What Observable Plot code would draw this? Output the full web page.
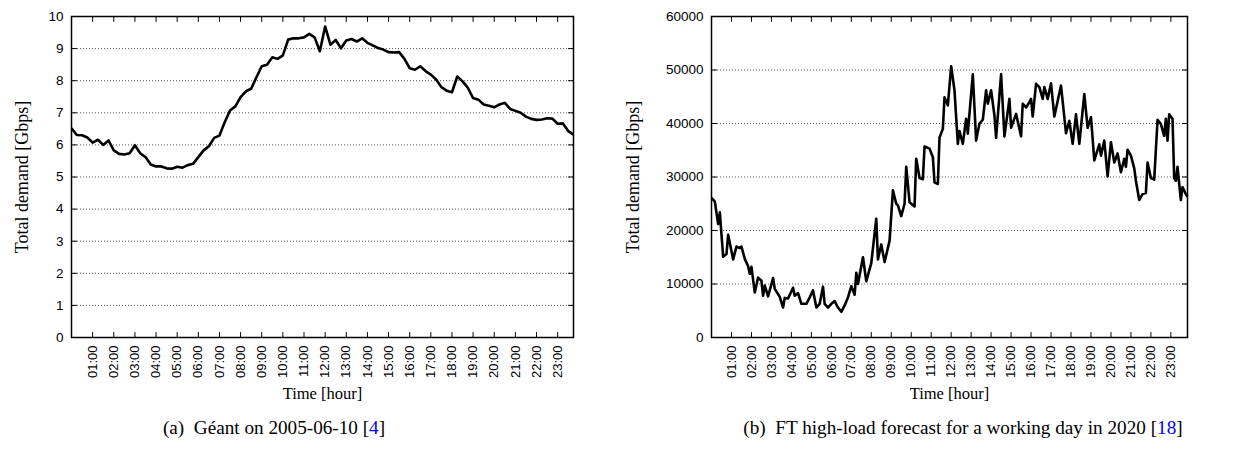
<!DOCTYPE html>
<html>
<head>
<meta charset="utf-8">
<script src="https://cdn.jsdelivr.net/npm/d3@7"></script>
<script src="https://cdn.jsdelivr.net/npm/@observablehq/plot@0.6"></script>
<style>
  html, body { margin: 0; padding: 0; background: #fff; }
  #root { position: relative; width: 1234px; height: 454px; overflow: hidden; background: #fff; }
  .panel { position: absolute; top: 0; }
  .cap { position: absolute; top: 417px; font-family: "Liberation Serif", "Times New Roman", serif; font-size: 19.2px; color: #000; white-space: nowrap; transform: translateX(-50%); }
  .cap .ref { color: #0000ff; }
</style>
</head>
<body>
<div id="root"></div>
<script>
// ---------- shared axis data ----------
const hourTicks = [60, 120, 180, 240, 300, 360, 420, 480, 540, 600, 660, 720, 780, 840, 900, 960, 1020, 1080, 1140, 1200, 1260, 1320, 1380];
const hourLabels = ["01:00","02:00","03:00","04:00","05:00","06:00","07:00","08:00","09:00","10:00","11:00","12:00","13:00","14:00","15:00","16:00","17:00","18:00","19:00","20:00","21:00","22:00","23:00"];

// ---------- (a) Géant 2005-06-10, 15-minute samples (Gbps) ----------
const geantStepMinutes = 15;
const geantValues = [
  6.52, 6.31, 6.30, 6.23, 6.07, 6.16, 6.00, 6.14, 5.83, 5.72, 5.70, 5.74,
  5.99, 5.74, 5.62, 5.39, 5.33, 5.33, 5.27, 5.26, 5.32, 5.29, 5.37, 5.41,
  5.62, 5.83, 5.96, 6.22, 6.29, 6.71, 7.07, 7.20, 7.49, 7.67, 7.75, 8.11,
  8.45, 8.50, 8.73, 8.68, 8.79, 9.28, 9.32, 9.32, 9.35, 9.46, 9.35, 8.92,
  9.69, 9.12, 9.27, 9.01, 9.25, 9.30, 9.22, 9.32, 9.18, 9.10, 9.02, 8.97,
  8.89, 8.88, 8.89, 8.68, 8.39, 8.34, 8.45, 8.30, 8.19, 8.04, 7.80, 7.69,
  7.64, 8.13, 7.98, 7.78, 7.46, 7.41, 7.26, 7.22, 7.17, 7.26, 7.31, 7.12,
  7.06, 7.00, 6.88, 6.81, 6.78, 6.79, 6.83, 6.82, 6.66, 6.67, 6.43, 6.32
];
const geantYTicks = [0, 1, 2, 3, 4, 5, 6, 7, 8, 9, 10];
const geantGrid = [1, 2, 3, 4, 5, 6, 7, 8, 9];

// ---------- (b) FT high-load forecast 2020 (Gbps) ----------
const ftMinutes = [
  0, 10, 20, 25, 35, 45, 50, 65, 75, 85, 90, 100, 110, 115, 120, 130, 140, 150, 155, 160,
  170, 185, 190, 200, 205, 215, 220, 230, 245, 250, 260, 270, 285, 295, 305, 310, 315, 325, 335, 340,
  350, 360, 370, 380, 390, 400, 410, 420, 430, 435, 440, 455, 465, 480, 495, 500, 510, 520, 535, 545,
  555, 560, 570, 580, 585, 595, 610, 615, 625, 635, 640, 655, 665, 670, 680, 685, 695, 700, 710, 720,
  730, 740, 745, 755, 765, 770, 785, 795, 805, 815, 825, 830, 840, 850, 855, 870, 880, 895, 900, 915,
  930, 935, 945, 955, 960, 965, 975, 985, 995, 1000, 1010, 1020, 1030, 1050, 1065, 1075, 1085, 1095, 1105, 1120,
  1130, 1140, 1150, 1165, 1170, 1180, 1190, 1200, 1210, 1220, 1230, 1240, 1245, 1250, 1260, 1270, 1275, 1285, 1295, 1305,
  1310, 1320, 1330, 1340, 1350, 1360, 1365, 1370, 1375, 1385, 1390, 1395, 1400, 1410, 1415, 1425, 1430
];
const ftValues = [
  26100, 25400, 21200, 23400, 15100, 15600, 19200, 14600, 17000, 16700, 17000, 14700, 13300, 11900, 13200, 8400, 11200, 10600, 7800, 9700,
  7700, 11100, 9100, 8100, 7600, 5600, 7400, 7300, 9300, 7800, 8300, 6300, 6300, 7500, 8800, 7200, 5600, 6300, 9500, 6300,
  5600, 6300, 6800, 5600, 4800, 6000, 7500, 9600, 8000, 12100, 10000, 15000, 10500, 13900, 22200, 14600, 17400, 14100, 18100, 27500,
  25000, 24700, 22700, 25000, 31900, 25300, 24500, 33400, 29800, 29600, 35700, 35300, 33700, 29000, 28700, 37400, 39000, 44900, 43400, 50700,
  46200, 36200, 38600, 36200, 40900, 38100, 49200, 36800, 40000, 40700, 46200, 43700, 46200, 41500, 37300, 49200, 37600, 44600, 39200, 41800,
  37600, 43700, 43000, 44000, 44600, 41300, 47400, 46800, 44600, 46800, 44600, 47500, 41300, 47100, 38200, 40500, 36200, 41700, 36200, 45500,
  39200, 41200, 33100, 36100, 34000, 36800, 30100, 36500, 32700, 34400, 30900, 33400, 31900, 35100, 34000, 31600, 29300, 25700, 26800, 27000,
  32700, 29800, 29500, 40700, 39900, 37700, 40900, 36800, 41700, 40900, 29800, 29300, 31900, 25700, 28100, 26800, 26300
];
const ftYTicks = [0, 10000, 20000, 30000, 40000, 50000, 60000];
const ftGrid = [10000, 20000, 30000, 40000, 50000];

// ---------- text ----------
const yTitle = "Total demand [Gbps]";
const xTitle = "Time [hour]";
const captionA = { pre: "(a)\u2002Géant on 2005-06-10 [", ref: "4", post: "]" };
const captionB = { pre: "(b)\u2002FT high-load forecast for a working day in 2020 [", ref: "18", post: "]" };

// ---------- builders ----------
const sans = "'Liberation Sans', Arial, Helvetica, sans-serif";
const serif = "'Liberation Serif', 'Times New Roman', serif";
const tickShape = { draw(context, l) { context.moveTo(0, 0); context.lineTo(0, -l); } };

function panel({data, xDomain, yDomain, yTicks, grid, marginLeft, marginRight, yTitleDx}) {
  const [x0, x1] = xDomain;
  const [y0, y1] = yDomain;
  const innerY = yTicks.slice(1, -1);
  return Plot.plot({
    width: 617,
    height: 405,
    marginTop: 16,
    marginBottom: 68,
    marginLeft,
    marginRight,
    style: { background: "transparent", color: "#000", overflow: "visible", fontWeight: "normal" },
    x: { domain: xDomain },
    y: { domain: yDomain },
    marks: [
      Plot.ruleY(grid, { stroke: "#555", strokeWidth: 1, strokeDasharray: "1,2" }),
      Plot.line(data, { x: "t", y: "v", stroke: "#000", strokeWidth: 2.6, strokeLinejoin: "round", strokeLinecap: "butt" }),
      Plot.frame({ stroke: "#000", strokeWidth: 1.5 }),
      // inward ticks: bottom & top (hours), left & right (values)
      Plot.vector(hourTicks, { x: d => d, y: y0, length: 5, anchor: "start", rotate: 0, shape: tickShape, stroke: "#000", strokeWidth: 1 }),
      Plot.vector(hourTicks, { x: d => d, y: y1, length: 5, anchor: "start", rotate: 180, shape: tickShape, stroke: "#000", strokeWidth: 1 }),
      Plot.vector(innerY, { x: x0, y: d => d, length: 5, anchor: "start", rotate: 90, shape: tickShape, stroke: "#000", strokeWidth: 1 }),
      Plot.vector(innerY, { x: x1, y: d => d, length: 5, anchor: "start", rotate: -90, shape: tickShape, stroke: "#000", strokeWidth: 1 }),
      Plot.axisY(yTicks, { tickSize: 0, tickPadding: 8, fontSize: 13.5, fontFamily: sans, label: null, tickFormat: d => String(d) }),
      Plot.axisX(hourTicks, { tickSize: 0, tickPadding: 8, tickRotate: -90, fontSize: 13, fontFamily: sans, label: null,
        tickFormat: d => hourLabels[hourTicks.indexOf(d)] }),
      Plot.text([yTitle], { text: d => d, frameAnchor: "left", textAnchor: "middle", lineAnchor: "middle", dx: yTitleDx, rotate: -90, fontFamily: serif, fontSize: 18, fill: "#000" }),
      Plot.text([xTitle], { text: d => d, frameAnchor: "bottom", textAnchor: "middle", dy: 56, lineAnchor: "middle", fontFamily: serif, fontSize: 16.5, fill: "#000" })
    ]
  });
}

const geantData = geantValues.map((v, i) => ({ t: i * geantStepMinutes, v }));
const ftData = ftMinutes.map((t, i) => ({ t, v: ftValues[i] }));

const root = document.getElementById("root");

const a = panel({
  data: geantData,
  xDomain: [0, (geantValues.length - 1) * geantStepMinutes],
  yDomain: [0, 10],
  yTicks: geantYTicks,
  grid: geantGrid,
  marginLeft: 71,
  marginRight: 44,
  yTitleDx: -49
});
a.classList.add("panel");
a.style.left = "0px";
root.appendChild(a);

const b = panel({
  data: ftData,
  xDomain: [0, ftMinutes[ftMinutes.length - 1]],
  yDomain: [0, 60000],
  yTicks: ftYTicks,
  grid: ftGrid,
  marginLeft: 94,
  marginRight: 47,
  yTitleDx: -78
});
b.classList.add("panel");
b.style.left = "617px";
root.appendChild(b);

function caption(c, cx) {
  const div = document.createElement("div");
  div.className = "cap";
  div.style.left = cx + "px";
  div.appendChild(document.createTextNode(c.pre));
  const s = document.createElement("span");
  s.className = "ref";
  s.textContent = c.ref;
  div.appendChild(s);
  div.appendChild(document.createTextNode(c.post));
  root.appendChild(div);
}
caption(captionA, 274);
caption(captionB, 963);
</script>
</body>
</html>
